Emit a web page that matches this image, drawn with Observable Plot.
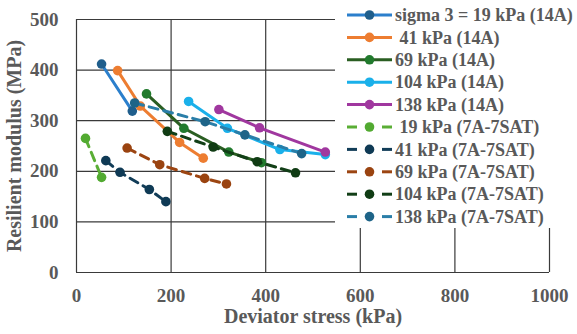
<!DOCTYPE html>
<html>
<head>
<meta charset="utf-8">
<script src="https://cdn.jsdelivr.net/npm/d3@7"></script>
<script src="https://cdn.jsdelivr.net/npm/@observablehq/plot@0.6"></script>
<style>
  html, body { margin: 0; padding: 0; background: white; }
  #wrap { position: relative; width: 577px; height: 334px; }
  #legend { position: absolute; left: 335px; top: 0; width: 242px; height: 228px; background: white; }
</style>
</head>
<body>
<div id="wrap"><div id="chart"></div><div id="legend"></div></div>
<script>
const seriesNames = [
  "sigma 3 = 19 kPa (14A)", " 41 kPa (14A)", "69 kPa (14A)", "104 kPa (14A)", "138 kPa (14A)",
  " 19 kPa (7A-7SAT)", "41 kPa (7A-7SAT)", "69 kPa (7A-7SAT)", "104 kPa (7A-7SAT)", "138 kPa (7A-7SAT)"
];
const deviatorStress = [
  [53, 118],
  [87, 135, 218, 268],
  [148, 227, 322, 391],
  [237, 319, 430, 526],
  [301, 387, 526],
  [19, 53],
  [62, 92, 154, 189],
  [107, 176, 271, 317],
  [192, 289, 382, 463],
  [123, 272, 356, 476]
];
const resilientModulus = [
  [412, 319],
  [399, 329, 257, 226],
  [353, 285, 238, 217],
  [338, 285, 243, 233],
  [322, 286, 238],
  [265, 188],
  [221, 198, 164, 140],
  [246, 213, 186, 175],
  [279, 248, 219, 197],
  [335, 298, 272, 235]
];
const dashed = [false, false, false, false, false, true, true, true, true, true];
const lineColors = ["#2b7fcc", "#ed7d31", "#2a5e22", "#1ab0ea", "#a0379f", "#5aae35", "#123d58", "#9c4512", "#123f17", "#2a7ea8"];
const markerColors = ["#1f5e8c", "#ed7d31", "#217a2d", "#1ab0ea", "#a0379f", "#52aa31", "#0f3a55", "#9a4310", "#103c14", "#1e6488"];
const xTicks = [0, 200, 400, 600, 800, 1000];
const yTicks = [0, 100, 200, 300, 400, 500];
const xTitle = "Deviator stress (kPa)";
const yTitle = "Resilient modulus (MPa)";
const FONT = "'Liberation Serif', 'Times New Roman', Times, serif";

const rows = [];
seriesNames.forEach((s, i) => {
  deviatorStress[i].forEach((x, j) => rows.push({series: i, x, y: resilientModulus[i][j]}));
});

const seriesMarks = [];
seriesNames.forEach((s, i) => {
  const d = rows.filter(r => r.series === i);
  seriesMarks.push(Plot.line(d, {x: "x", y: "y", stroke: lineColors[i], strokeWidth: 3, strokeDasharray: dashed[i] ? "9,6" : null}));
  seriesMarks.push(Plot.dot(d, {x: "x", y: "y", fill: markerColors[i], r: 4.8}));
});

const chart = Plot.plot({
  width: 577, height: 334,
  marginLeft: 76, marginRight: 28, marginTop: 19, marginBottom: 62,
  x: {domain: [0, 1000]},
  y: {domain: [0, 500]},
  style: {fontFamily: FONT, fontSize: "19px", fontWeight: "bold", color: "#595959", background: "white", overflow: "visible"},
  marks: [
    Plot.ruleY(yTicks, {stroke: "#3a3a3a", strokeWidth: 1.2}),
    Plot.ruleX(xTicks, {stroke: "#3a3a3a", strokeWidth: 1.2}),
    Plot.axisX({ticks: xTicks, tickSize: 0, tickPadding: 16, label: null, tickFormat: d3.format("d"), fontSize: 19}),
    Plot.axisY({ticks: yTicks, tickSize: 0, tickPadding: 18, label: null, tickFormat: d3.format("d"), fontSize: 19}),
    ...seriesMarks,
    Plot.text([xTitle], {text: d => d, frameAnchor: "bottom", dy: 50, fill: "#595959", fontSize: 20}),
    Plot.text([yTitle], {text: d => d, frameAnchor: "left", textAnchor: "middle", dx: -62, rotate: -90, fill: "#595959", fontSize: 20})
  ]
});
document.getElementById("chart").appendChild(chart);

// legend
const lg = d3.select("#legend").append("svg").attr("width", 242).attr("height", 228);
seriesNames.forEach((s, i) => {
  const cy = 15 + i * 22.4;
  const g = lg.append("g");
  if (dashed[i]) {
    g.append("line").attr("x1", 12).attr("x2", 22).attr("y1", cy).attr("y2", cy).attr("stroke", lineColors[i]).attr("stroke-width", 3);
    g.append("line").attr("x1", 47).attr("x2", 57).attr("y1", cy).attr("y2", cy).attr("stroke", lineColors[i]).attr("stroke-width", 3);
  } else {
    g.append("line").attr("x1", 12).attr("x2", 57).attr("y1", cy).attr("y2", cy).attr("stroke", lineColors[i]).attr("stroke-width", 3);
  }
  g.append("circle").attr("cx", 34.5).attr("cy", cy).attr("r", 4.8).attr("fill", markerColors[i]);
  g.append("text").attr("x", 60).attr("y", cy).attr("dy", "0.34em")
    .style("white-space", "pre")
    .attr("font-family", FONT)
    .attr("font-size", 18).attr("font-weight", "bold").attr("fill", "#595959")
    .text(s);
});
</script>
</body>
</html>
